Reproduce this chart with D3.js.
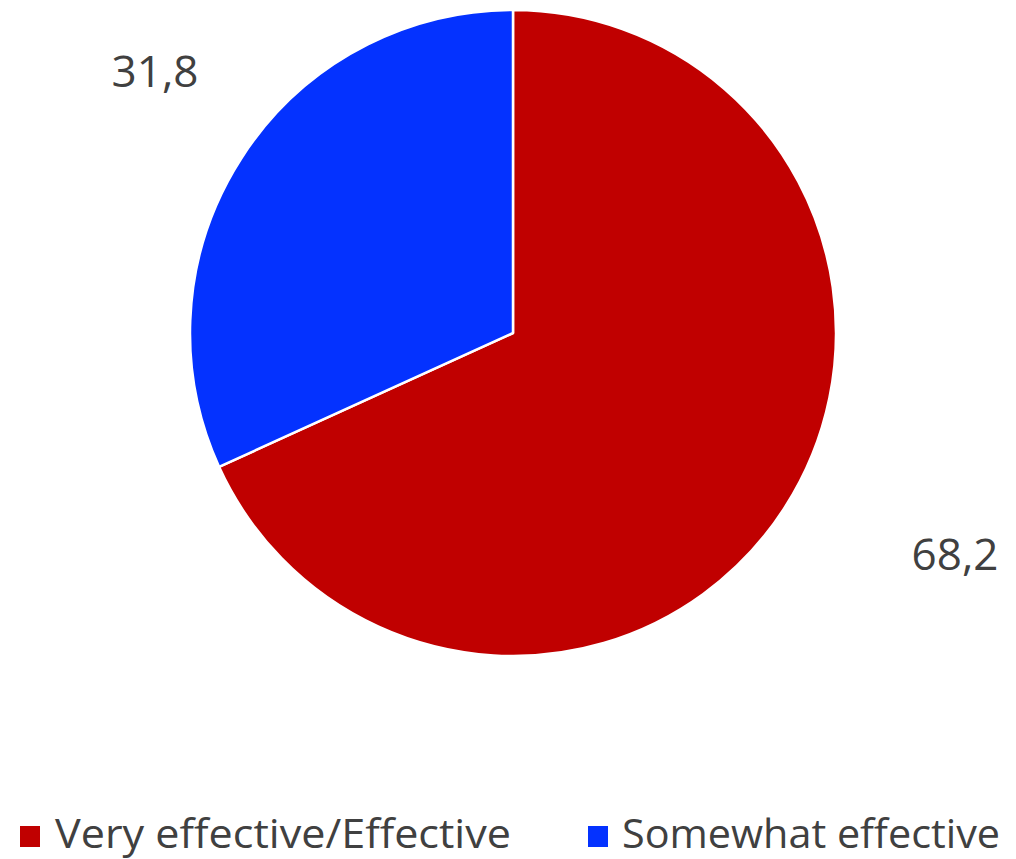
<!DOCTYPE html>
<html>
<head>
<meta charset="utf-8">
<script src="https://cdn.jsdelivr.net/npm/d3@7"></script>
<style>
html,body{margin:0;padding:0;background:#fff;}
svg{display:block;}
</style>
</head>
<body>
<svg id="chart" width="1016" height="859"></svg>
<script>
const categories = ["Very effective/Effective", "Somewhat effective"];
const values = [68.2, 31.8];
const valueLabels = ["68,2", "31,8"];
const colors = ["#C00000", "#0432FF"];

const W = 1016, H = 859;
const cx = 513, cy = 333, R = 323;
const svg = d3.select("#chart");

const pie = d3.pie().sort(null).value(d => d)(values);
const arc = d3.arc().innerRadius(0).outerRadius(R);

const g = svg.append("g").attr("transform", `translate(${cx},${cy})`);
g.selectAll("path").data(pie).enter().append("path")
  .attr("d", arc)
  .attr("fill", (d, i) => colors[i])
  .attr("stroke", "#fff")
  .attr("stroke-width", 2.5)
  .attr("stroke-linejoin", "round");

// data labels (outside end placement)
const labelOffsets = [[442, 237], [-358, -246]];
g.selectAll("text.lbl").data(pie).enter().append("text")
  .attr("class", "lbl")
  .attr("x", (d, i) => labelOffsets[i][0])
  .attr("y", (d, i) => labelOffsets[i][1])
  .attr("text-anchor", "middle")
  .attr("font-family", "'Open Sans', sans-serif")
  .attr("font-size", 44)
  .attr("fill", "#404040")
  .text((d, i) => valueLabels[i]);

// legend
const legendItems = [
  {x: 20, tx: 55, tw: 456},
  {x: 588, tx: 622, tw: 378}
];
const lg = svg.append("g");
categories.forEach((c, i) => {
  const it = legendItems[i];
  lg.append("rect").attr("x", it.x).attr("y", 826).attr("width", 20).attr("height", 21)
    .attr("fill", colors[i]);
  lg.append("text").attr("x", it.tx).attr("y", 848)
    .attr("font-family", "'Open Sans', sans-serif")
    .attr("font-size", 41)
    .attr("fill", "#404040")
    .attr("textLength", it.tw)
    .attr("lengthAdjust", "spacingAndGlyphs")
    .text(c);
});
</script>
</body>
</html>
